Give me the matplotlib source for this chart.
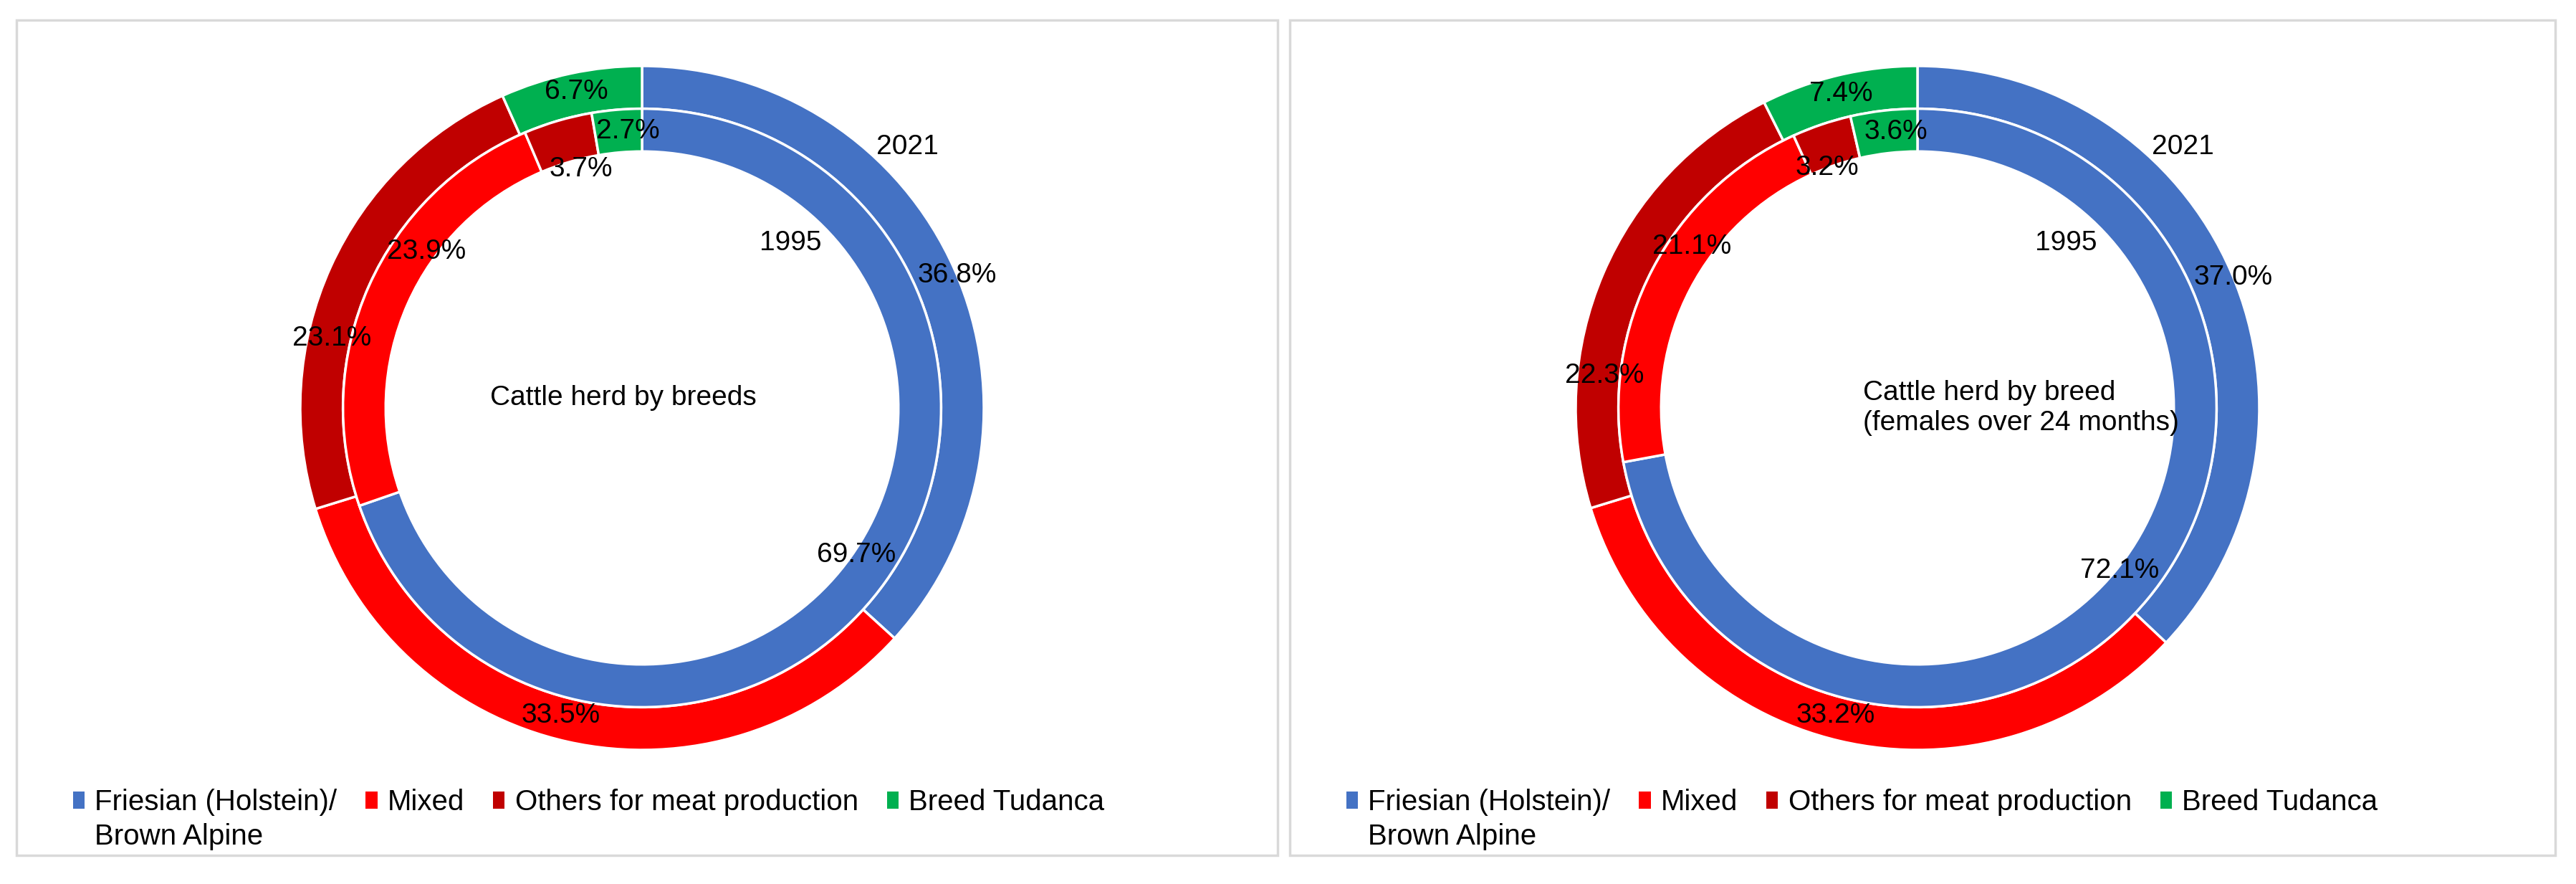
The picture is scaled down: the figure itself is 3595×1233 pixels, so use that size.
import matplotlib
matplotlib.use("Agg")
import matplotlib.pyplot as plt
import numpy as np
from matplotlib.patches import Rectangle

plt.rcParams['font.family'] = ['Liberation Sans', 'DejaVu Sans']

# data
breeds = ['Friesian (Holstein)/\nBrown Alpine', 'Mixed', 'Others for meat production', 'Breed Tudanca']
colors = ['#4472C4', '#FF0000', '#C00000', '#00B050']

left_2021 = [36.8, 33.5, 23.1, 6.7]
left_1995 = [69.7, 23.9, 3.7, 2.7]
right_2021 = [37.0, 33.2, 22.3, 7.4]
right_1995 = [72.1, 21.1, 3.2, 3.6]

left_title = 'Cattle herd by breeds'
right_title = 'Cattle herd by breed\n(females over 24 months)'

W, H = 3595, 1233
FS = 28
LEG_FS = 29

fig = plt.figure(figsize=(W / 100, H / 100), dpi=100)


def panel_frame(x0, x1, y0=28, y1=1193):
    r = Rectangle((x0 / W, 1 - y1 / H), (x1 - x0) / W, (y1 - y0) / H,
                  transform=fig.transFigure, fill=False, edgecolor='#d9d9d9', linewidth=2.5)
    fig.add_artist(r)


def mid_angles(vals):
    c = np.cumsum([0] + list(vals))
    mids = (c[:-1] + c[1:]) / 2
    return 90 - mids * 3.6


def draw_donut(cx, cy, R, outer, inner, label_tweaks, year_pos, title, title_xy, title_ha):
    ax = fig.add_axes([(cx - R) / W, 1 - (cy + R) / H, 2 * R / W, 2 * R / H])
    wp = dict(width=0.125, edgecolor='white', linewidth=2.5)
    ax.pie(outer, radius=1.0, colors=colors, startangle=90, counterclock=False, wedgeprops=wp)
    ax.pie(inner, radius=0.875, colors=colors, startangle=90, counterclock=False, wedgeprops=wp)
    ax.set_xlim(-1, 1)
    ax.set_ylim(-1, 1)
    ax.set_aspect('equal')
    ax.axis('off')

    # percentage labels: radius and angle shift from the wedge middle
    for ring, vals in (('outer', outer), ('inner', inner)):
        mids = mid_angles(vals)
        for i, v in enumerate(vals):
            r, da = label_tweaks[ring][i]
            a = np.deg2rad(mids[i] + da)
            ax.text(r * np.cos(a), r * np.sin(a), f'{v:.1f}%', ha='center', va='center',
                    fontsize=FS, color='black')

    for txt, (ang, r) in zip(['2021', '1995'], year_pos):
        a = np.deg2rad(ang)
        ax.text(r * np.cos(a), r * np.sin(a), txt, ha='center', va='center', fontsize=FS)

    ax.text(title_xy[0], title_xy[1], title, ha=title_ha, va='center', fontsize=FS,
            linespacing=1.25)
    return ax


panel_frame(23, 1783)
panel_frame(1800, 3566)

left_tweaks = {
    'outer': [(1.0, -1), (0.93, -2), (0.93, 12), (0.945, 0)],
    'inner': [(0.76, 1), (0.78, -12), (0.72, -2), (0.81, -2)],
}
right_tweaks = {
    'outer': [(1.0, -1), (0.93, -2), (0.92, 17), (0.945, 0)],
    'inner': [(0.76, 1), (0.81, -8), (0.75, 2), (0.81, -2)],
}

axl = draw_donut(896, 569, 477, left_2021, left_1995, left_tweaks,
                 [(44.5, 1.09), (48, 0.65)], left_title, (-0.055, 0.03), 'center')
axr = draw_donut(2676, 569, 477, right_2021, right_1995, right_tweaks,
                 [(44.5, 1.09), (48, 0.65)], right_title, (-0.16, 0.0), 'left')

# legends
handles = [Rectangle((0, 0), 1, 1, facecolor=c) for c in colors]
leg_labels = ['Friesian (Holstein)/', 'Mixed', 'Others for meat production', 'Breed Tudanca']
legs = []
for x0 in (102, 1879):
    leg = fig.legend(handles, leg_labels, ncol=4, loc='center left',
                     bbox_to_anchor=(x0 / W, 1 - 1119 / H), frameon=False, fontsize=LEG_FS,
                     handlelength=0.4, handleheight=0.55, handletextpad=0.35,
                     columnspacing=1.0, borderpad=0, borderaxespad=0)
    legs.append(leg)

fig.canvas.draw()
renderer = fig.canvas.get_renderer()
for leg in legs:
    bb = leg.get_texts()[0].get_window_extent(renderer)
    fig.text(bb.x0 / W, (bb.y0 - 40) / H, 'Brown Alpine', fontsize=LEG_FS, va='baseline',
             ha='left')

fig.savefig('out.png', dpi=100, facecolor='white')
